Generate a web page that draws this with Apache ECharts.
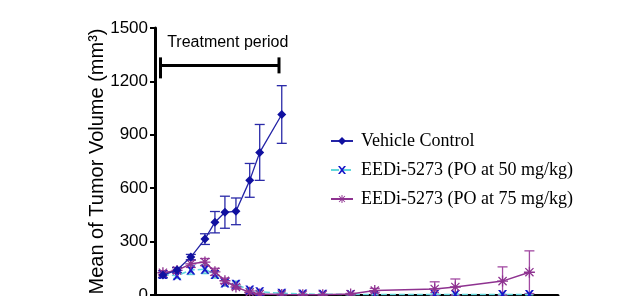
<!DOCTYPE html>
<html>
<head>
<meta charset="utf-8">
<script src="https://cdn.jsdelivr.net/npm/echarts@6/dist/echarts.min.js"></script>
<style>
  html, body { margin: 0; padding: 0; background: #fff; }
  #chart { width: 640px; height: 296px; }
</style>
</head>
<body>
<div id="chart"></div>
<script>
// 天数
const vehicleDays = [2.3, 6.4, 10.4, 14.5, 17.4, 20.3, 23.5, 27.5, 30.4, 36.8]
const drugDays = [2.3, 6.4, 10.4, 14.5, 17.4, 20.3, 23.5, 27.5, 30.4, 36.8, 42.9, 48.7, 56.8, 63.8, 81.2, 87.2, 100.9, 108.7]

const vehicleMean = [112, 140, 213, 314, 409, 465, 470, 644, 801, 1014]
const vehicleErr = [15, 15, 15, 30, 60, 90, 75, 95, 157, 162]

const dose50Mean = [115, 108, 140, 145, 115, 68, 60, 28, 18, 10, 6, 4, 3, 3, 3, 3, 3, 3]
const dose50Err = [12, 15, 25, 25, 20, 18, 18, 10, 8, 5, 3, 2, 2, 2, 2, 2, 2, 2]

const dose75Mean = [125, 138, 175, 185, 130, 80, 45, 15, 5, 3, 2, 2, 5, 25, 34, 45, 78, 128]
const dose75Err = [12, 15, 20, 20, 20, 15, 12, 8, 4, 2, 2, 2, 4, 12, 40, 45, 80, 120]

const yTicks = [0, 300, 600, 900, 1200, 1500]
const treatment = [[1.6, 36, 1290]]   // 起点, 终点, 高度
const treatmentLabel = 'Treatment period'

const xSymbol = 'path://M0,0 L2.4,0 L5,3 L7.6,0 L10,0 L6.3,5 L10,10 L7.6,10 L5,7 L2.4,10 L0,10 L3.7,5 Z'
const starSymbol = 'path://M0,4.4 H10 V5.6 H0 Z M4.4,0 H5.6 V10 H4.4 Z M0.9,1.7 L1.7,0.9 L9.1,8.3 L8.3,9.1 Z M8.3,0.9 L9.1,1.7 L1.7,9.1 L0.9,8.3 Z'

function pairs(xs, ys) {
  return xs.map((x, i) => [x, ys[i]])
}
function errData(xs, ys, es) {
  return xs.map((x, i) => [x, ys[i] - es[i], ys[i] + es[i]])
}
function errSeries(name, xs, ys, es, color, cap) {
  return {
    name: name,
    type: 'custom',
    silent: true,
    z: 1,
    data: errData(xs, ys, es),
    renderItem(params, api) {
      const lo = api.coord([api.value(0), Math.max(api.value(1), 0)])
      const hi = api.coord([api.value(0), api.value(2)])
      const style = { stroke: color, lineWidth: 1.3 }
      return {
        type: 'group',
        children: [
          { type: 'line', shape: { x1: hi[0], y1: hi[1], x2: lo[0], y2: lo[1] }, style },
          { type: 'line', shape: { x1: hi[0] - cap, y1: hi[1], x2: hi[0] + cap, y2: hi[1] }, style },
          { type: 'line', shape: { x1: lo[0] - cap, y1: lo[1], x2: lo[0] + cap, y2: lo[1] }, style }
        ]
      }
    }
  }
}

const chart = echarts.init(document.getElementById('chart'))
const option = {
  animation: false,
  grid: { left: 155, top: 28, right: 82, bottom: 1, containLabel: false, outerBoundsMode: 'none' },
  xAxis: {
    type: 'value',
    min: 0,
    max: 117,
    axisLine: { lineStyle: { color: '#000', width: 3 } },
    axisTick: { show: false },
    axisLabel: { show: false },
    splitLine: { show: false }
  },
  yAxis: {
    type: 'value',
    min: 0,
    max: 1500,
    interval: 300,
    name: 'Mean of Tumor Volume (mm³)',
    nameLocation: 'middle',
    nameRotate: 90,
    nameGap: 48,
    nameMoveOverlap: false,
    nameTextStyle: { fontFamily: 'Liberation Sans', fontSize: 20, color: '#000' },
    axisLine: { show: true, lineStyle: { color: '#000', width: 3 } },
    axisTick: { show: true, length: 5, lineStyle: { color: '#000', width: 2 } },
    axisLabel: {
      fontFamily: 'Liberation Sans', fontSize: 17, color: '#000', margin: 7,
      formatter: v => yTicks.includes(v) ? String(v) : ''
    },
    splitLine: { show: false }
  },
  legend: {
    orient: 'vertical',
    left: 325,
    top: 127,
    itemWidth: 22,
    itemHeight: 10,
    itemGap: 11,
    data: ['Vehicle Control', 'EEDi-5273 (PO at 50 mg/kg)', 'EEDi-5273 (PO at 75 mg/kg)'],
    textStyle: { fontFamily: 'Liberation Serif', fontSize: 18, color: '#000', padding: [0, 0, 0, 3] }
  },
  series: [
    errSeries('err50', drugDays, dose50Mean, dose50Err, '#5fd0d8', 4),
    errSeries('err75', drugDays, dose75Mean, dose75Err, '#a24aa2', 5),
    errSeries('errVehicle', vehicleDays, vehicleMean, vehicleErr, '#2a2aa8', 5),
    {
      name: 'EEDi-5273 (PO at 50 mg/kg)',
      type: 'line',
      z: 3,
      data: pairs(drugDays, dose50Mean),
      symbol: xSymbol,
      symbolSize: 9,
      lineStyle: { color: '#62d6dc', width: 1.5, type: 'dashed' },
      itemStyle: { color: '#1717c8' }
    },
    {
      name: 'EEDi-5273 (PO at 75 mg/kg)',
      type: 'line',
      z: 4,
      data: pairs(drugDays, dose75Mean),
      symbol: starSymbol,
      symbolSize: 11,
      lineStyle: { color: '#8e3290', width: 1.5 },
      itemStyle: { color: '#8e3290' }
    },
    {
      name: 'Vehicle Control',
      type: 'line',
      z: 5,
      data: pairs(vehicleDays, vehicleMean),
      symbol: 'diamond',
      symbolSize: 9,
      lineStyle: { color: '#2424a6', width: 1.3 },
      itemStyle: { color: '#1010a0' }
    },
    {
      name: 'treatment',
      type: 'custom',
      silent: true,
      data: treatment,
      renderItem(params, api) {
        const a = api.coord([api.value(0), api.value(2)])
        const b = api.coord([api.value(1), api.value(2)])
        const style = { stroke: '#000', lineWidth: 3 }
        return {
          type: 'group',
          children: [
            { type: 'line', shape: { x1: a[0], y1: a[1], x2: b[0], y2: b[1] }, style },
            { type: 'line', shape: { x1: a[0], y1: a[1] - 8, x2: a[0], y2: a[1] + 13 }, style },
            { type: 'line', shape: { x1: b[0], y1: b[1] - 8, x2: b[0], y2: b[1] + 8 }, style },
            {
              type: 'text',
              style: {
                x: (a[0] + b[0]) / 2 + 8, y: a[1] - 23,
                text: treatmentLabel,
                font: '16px "Liberation Sans"',
                fill: '#000',
                align: 'center',
                verticalAlign: 'middle'
              }
            }
          ]
        }
      }
    }
  ]
}
chart.setOption(option)
</script>
</body>
</html>
